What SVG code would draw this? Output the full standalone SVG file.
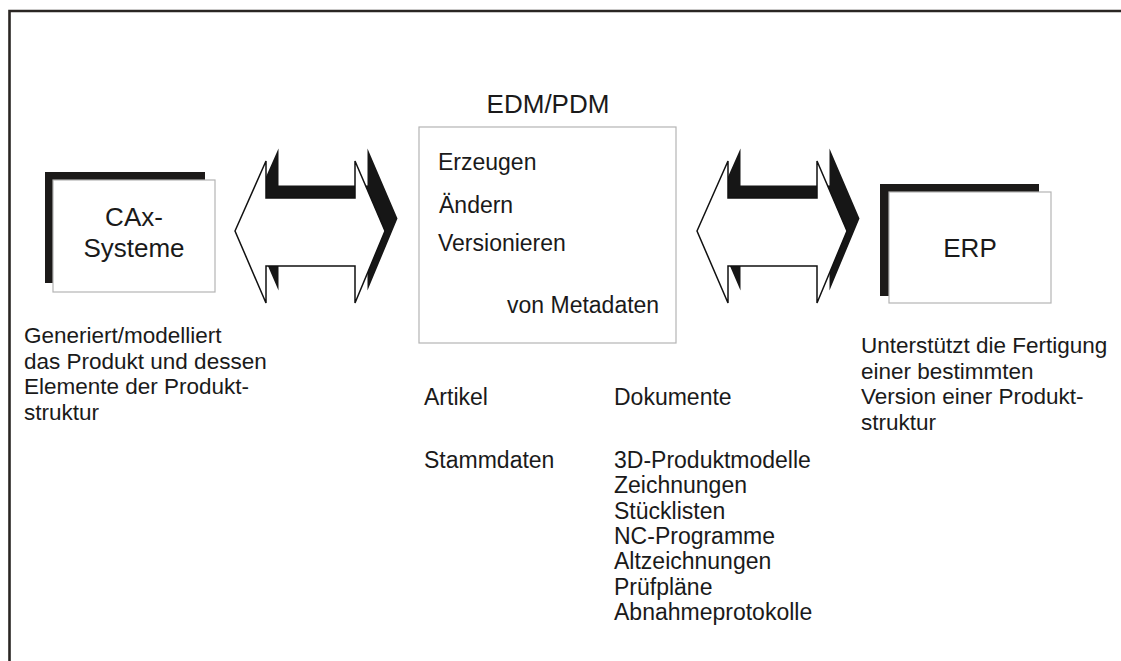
<svg xmlns="http://www.w3.org/2000/svg" xmlns:xlink="http://www.w3.org/1999/xlink" width="1121" height="661" viewBox="0 0 1121 661">
<style>
text{font-family:"Liberation Sans",Arial,Helvetica,sans-serif;fill:#1a1a1a}
.t{font-size:26px}
.b{font-size:23px}
.s{font-size:22.5px}
.box{fill:#fff;stroke:#b4b4b4;stroke-width:1.2}
.shadow{fill:#1c1a19}
.frame{fill:none;stroke:#2a2623;stroke-width:2.6}
.ash{fill:#161616}
.afr{fill:#fff;stroke:#111;stroke-width:1.5;stroke-linejoin:miter}
</style>
<defs>
<polygon id="arr" points="235,231 266,161 266,198 355,198 355,161 385,231 355,303 355,266 266,266 266,303"/>
</defs>
<rect width="1121" height="661" fill="#fff"/>
<path class="frame" d="M9.5,661 V11 H1121"/>

<g id="cax">
<rect class="shadow" x="45" y="172" width="160" height="111"/>
<rect class="box" x="53" y="180" width="162" height="112"/>
<text class="t" x="134" y="226" text-anchor="middle">CAx-</text>
<text class="t" x="134" y="257" text-anchor="middle">Systeme</text>
</g>

<g id="edm">
<text class="t" x="548" y="113" text-anchor="middle">EDM/PDM</text>
<rect class="box" x="419" y="127" width="257" height="216"/>
<text class="b" x="438" y="170">Erzeugen</text>
<text class="b" x="439" y="213">Ändern</text>
<text class="b" x="438" y="251">Versionieren</text>
<text class="b" x="507" y="313">von Metadaten</text>
</g>

<g id="erp">
<rect class="shadow" x="880" y="184" width="159" height="112"/>
<rect class="box" x="889" y="192" width="162" height="111"/>
<text class="t" x="970" y="257" text-anchor="middle">ERP</text>
</g>

<g id="connectors">
<g id="arrow-left">
<use xlink:href="#arr" class="ash" transform="translate(12.5,-12.5)"/>
<use xlink:href="#arr" class="afr"/>
</g>
<g id="arrow-right" transform="translate(462,0)">
<use xlink:href="#arr" class="ash" transform="translate(12.5,-12.5)"/>
<use xlink:href="#arr" class="afr"/>
</g>
</g>

<g id="cax-desc">
<text class="s" x="24" y="343">Generiert/modelliert</text>
<text class="s" x="24" y="368.5">das Produkt und dessen</text>
<text class="s" x="24" y="394">Elemente der Produkt-</text>
<text class="s" x="24" y="419.5">struktur</text>
</g>

<g id="erp-desc">
<text class="s" x="861" y="353">Unterstützt die Fertigung</text>
<text class="s" x="861" y="378.5">einer bestimmten</text>
<text class="s" x="861" y="404">Version einer Produkt-</text>
<text class="s" x="861" y="429.5">struktur</text>
</g>

<g id="lists">
<text class="b" x="424" y="405">Artikel</text>
<text class="b" x="614" y="405">Dokumente</text>
<text class="b" x="424" y="468">Stammdaten</text>
<text class="b" x="614" y="468">3D-Produktmodelle</text>
<text class="b" x="614" y="493.3">Zeichnungen</text>
<text class="b" x="614" y="518.6">Stücklisten</text>
<text class="b" x="614" y="543.9">NC-Programme</text>
<text class="b" x="614" y="569.2">Altzeichnungen</text>
<text class="b" x="614" y="594.5">Prüfpläne</text>
<text class="b" x="614" y="619.8">Abnahmeprotokolle</text>
</g>
</svg>
